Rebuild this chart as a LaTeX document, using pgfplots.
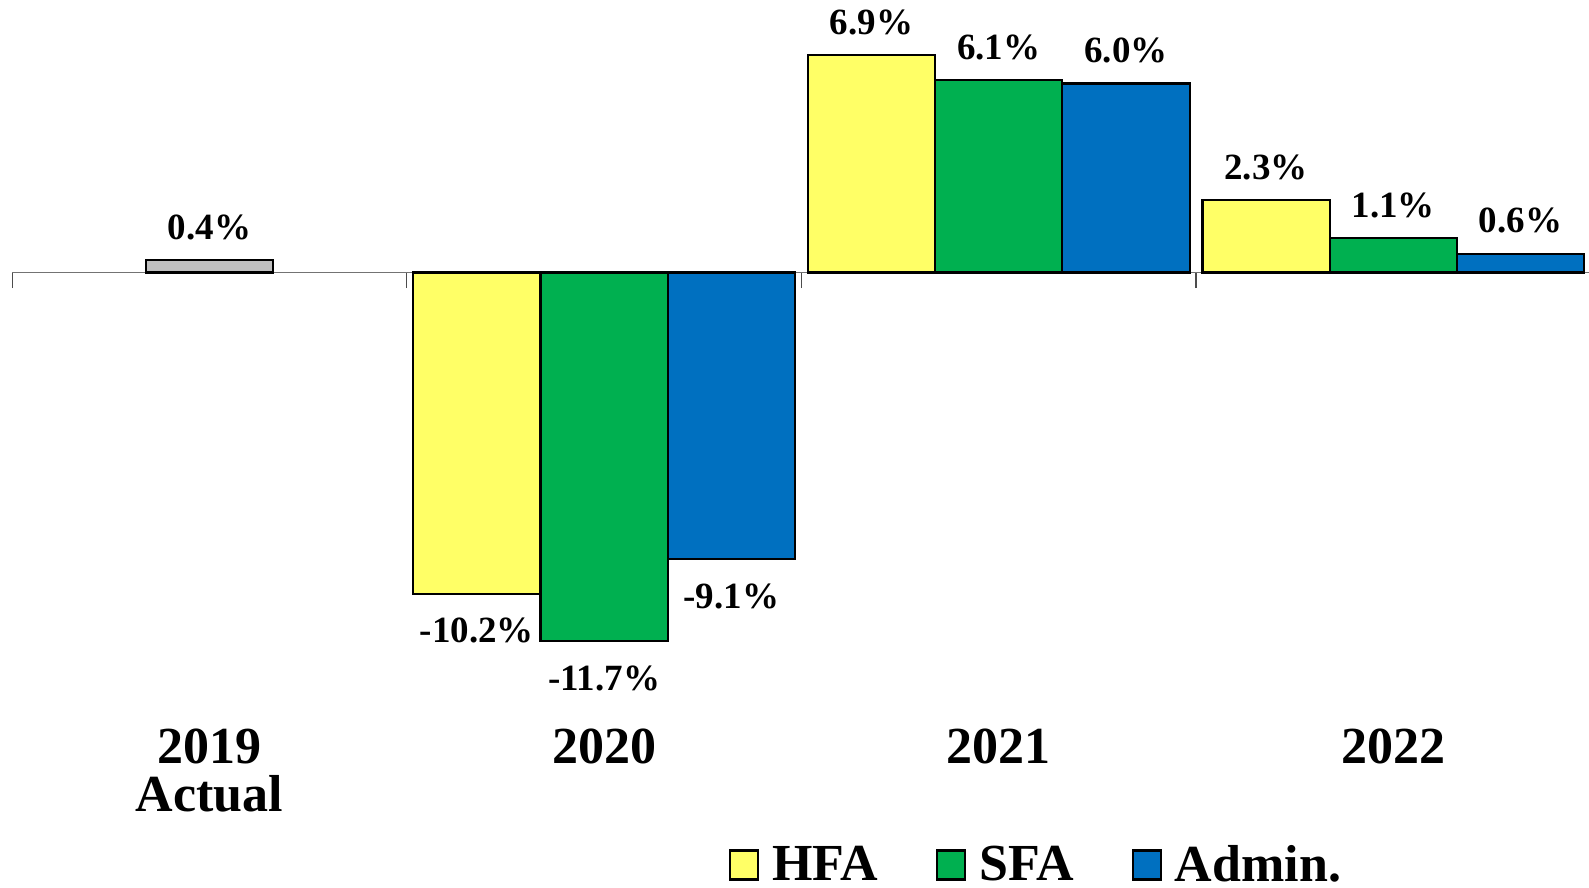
\documentclass[border=0pt]{standalone}
\usepackage{fontspec}
\setmainfont{Liberation Serif}
\usepackage{pgfplots}
\pgfplotsset{compat=1.18}
\definecolor{hfa}{RGB}{255,255,102}
\definecolor{sfa}{RGB}{0,176,80}
\definecolor{adm}{RGB}{0,112,192}
\definecolor{act}{RGB}{191,191,191}
\pgfplotsset{
  boxlegend/.style={legend image code/.code={\draw[##1, line width=1.1pt] (0pt,-7.25pt) rectangle (14pt,7.25pt);}},
  negnodes/.style={every node near coord/.append style={anchor=north, yshift=-2.1pt}},
  leftnodes/.style={every node near coord/.append style={xshift=-63.62pt}},
  rightnodes/.style={every node near coord/.append style={xshift=63.62pt}},
}
\begin{document}
\begin{tikzpicture}
\begin{axis}[
  scale only axis,
  width=789.14pt, height=443.5pt,
  xmin=-0.5, xmax=3.5,
  ymin=-19.508, ymax=8.651,
  clip=false,
  axis x line*=middle,
  axis y line=none,
  x axis line style={draw=black!55, line width=0.7pt},
  xtick={-0.5,0.5,1.5,2.5,3.5},
  xticklabels={},
  major tick length=7.85pt,
  tick align=outside,
  xtick style={draw=black!70, line width=0.6pt},
  extra x ticks={0,1,2,3},
  extra x tick labels={2019\\Actual,2020,2021,2022},
  extra x tick style={major tick length=0pt},
  xticklabel style={anchor=north, inner sep=0pt, align=center,
    font=\fontsize{26}{24.2}\selectfont\bfseries, yshift=-227.9pt},
  bar width=0.3225,
  nodes near coords={\pgfplotspointmeta},
  point meta=explicit symbolic,
  every node near coord/.append style={font=\fontsize{18.5}{18.5}\selectfont\bfseries,
    inner xsep=0pt, inner ysep=9.6pt, text=black},
  legend columns=3,
  legend style={at={(axis cs:1.3164,-18.81)}, anchor=west, draw=none, fill=none,
    inner sep=0pt, outer sep=0pt, font=\fontsize{26}{26}\selectfont\bfseries,
    nodes={inner sep=0pt},
    /tikz/every even column/.append style={column sep=29pt},
    /tikz/every odd column/.append style={column sep=6.5pt}},
]
% HFA
\addplot[ybar, fill=hfa, draw=black, line width=1.1pt, bar shift=-0.3225, boxlegend, leftnodes]
  coordinates {(2,6.9) [6.9\%] (3,2.3) [2.3\%]};
\addlegendentry{HFA}
% SFA
\addplot[ybar, fill=sfa, draw=black, line width=1.1pt, bar shift=0, boxlegend]
  coordinates {(2,6.1) [6.1\%] (3,1.1) [1.1\%]};
\addlegendentry{SFA}
% Admin.
\addplot[ybar, fill=adm, draw=black, line width=1.1pt, bar shift=0.3225, boxlegend, rightnodes]
  coordinates {(2,6.0) [6.0\%] (3,0.6) [0.6\%]};
\addlegendentry{Admin.}
% 2020 (negative values)
\addplot[ybar, fill=hfa, draw=black, line width=1.1pt, bar shift=-0.3225, negnodes, leftnodes, forget plot]
  coordinates {(1,-10.2) [-10.2\%]};
\addplot[ybar, fill=sfa, draw=black, line width=1.1pt, bar shift=0, negnodes, forget plot]
  coordinates {(1,-11.7) [-11.7\%]};
\addplot[ybar, fill=adm, draw=black, line width=1.1pt, bar shift=0.3225, negnodes, rightnodes, forget plot]
  coordinates {(1,-9.1) [-9.1\%]};
% 2019 Actual
\addplot[ybar, fill=act, draw=black, line width=1.1pt, bar shift=0, forget plot]
  coordinates {(0,0.4) [0.4\%]};
\end{axis}
\pgfresetboundingbox
\path ([xshift=-6.15pt]current axis.south west) rectangle ([xshift=-0.79pt]current axis.north east);
\end{tikzpicture}
\end{document}
